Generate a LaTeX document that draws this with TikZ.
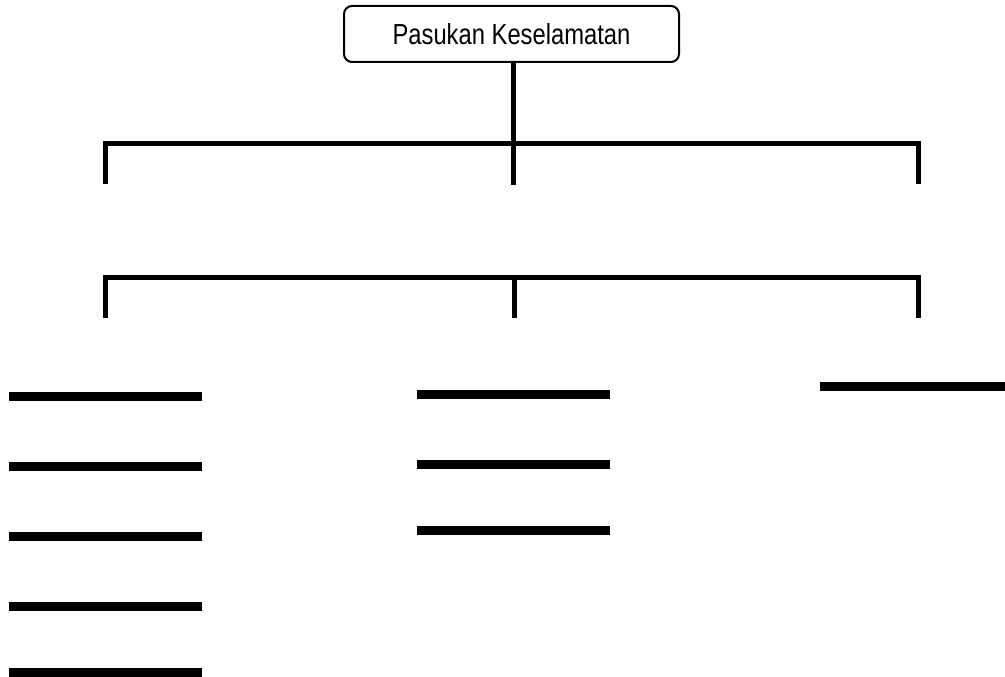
\documentclass[tikz,border=0pt]{standalone}
\usepackage{fontspec}
\setmainfont{Liberation Sans}[FakeStretch=0.82]
\tikzset{
	headbox/.style={draw,line width=2pt,rounded corners=8pt,minimum width=335pt,minimum height=56pt,inner sep=0pt,font=\fontsize{29}{33}\selectfont},
	link/.style={line width=5pt},
	slot/.style={line width=9pt}
}
\begin{document}
\begin{tikzpicture}[x=1pt,y=-1pt,line join=miter,line cap=butt]
	\useasboundingbox (0,0) rectangle (1005,677);
	\node[headbox] (PK) at (511.5,34) {Pasukan Keselamatan};
	\path
	(105,143) coordinate (UL)
	(513,143) coordinate (UM)
	(918,143) coordinate (UR)
	(105,277) coordinate (LL)
	(514,277) coordinate (LM)
	(918,277) coordinate (LR)
	;
	% upper bracket
	\draw[link] (UM |- PK.south) -- (UM) -- ++(0,42);
	\draw[link] (UL)++(0,41) -- (UL) -- (UR) -- ++(0,41);
	% lower bracket
	\draw[link] (LL)++(0,41) -- (LL) -- (LR) -- ++(0,41);
	\draw[link] (LM) -- ++(0,41);
	% empty slots
	\foreach \y in {396.5,466.5,536.5,606.5,672.5}{
		\draw[slot] (9,\y) -- (202,\y);
	};
	\foreach \y in {394.5,464.5,530}{
		\draw[slot] (417,\y) -- (610,\y);
	};
	\draw[slot] (820,386) -- (1010,386);
\end{tikzpicture}
\end{document}
